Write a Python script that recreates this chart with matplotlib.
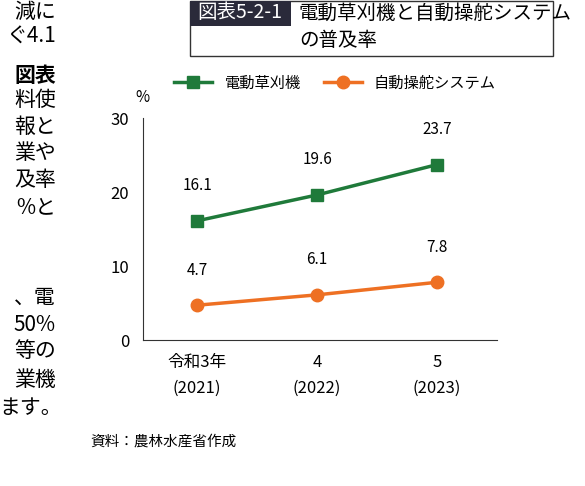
import matplotlib
matplotlib.use("Agg")
import matplotlib.pyplot as plt
from matplotlib.patches import Rectangle

plt.rcParams['font.family'] = ['Noto Sans CJK JP', 'DejaVu Sans']

categories = ["令和3年\n(2021)", "4\n(2022)", "5\n(2023)"]
mower = [16.1, 19.6, 23.7]
steering = [4.7, 6.1, 7.8]
series_names = ["電動草刈機", "自動操舵システム"]
yticks = [0, 10, 20, 30]

W, H = 585, 486
fig = plt.figure(figsize=(W/100, H/100), dpi=100)
green = "#1f7a3a"
orange = "#ee7023"

ax = fig.add_axes([143/W, 1-340/H, (497-143)/W, (340-118)/H])
x = range(len(categories))
ax.plot(x, mower, color=green, marker="s", markersize=9, lw=2.5, label=series_names[0])
ax.plot(x, steering, color=orange, marker="o", markersize=9, lw=2.5, label=series_names[1])
for i, v in enumerate(mower):
    ax.annotate(f"{v}", (i, v), xytext=(0, 22), textcoords="offset points", ha="center", fontsize=11)
for i, v in enumerate(steering):
    ax.annotate(f"{v}", (i, v), xytext=(0, 22), textcoords="offset points", ha="center", fontsize=11)
ax.set_xlim(-0.45, 2.5)
ax.set_ylim(0, 30)
ax.set_yticks(yticks)
ax.set_xticks(list(x))
ax.set_xticklabels(categories, fontsize=12, linespacing=1.7)
ax.tick_params(axis='y', labelsize=12, length=0, pad=10)
ax.tick_params(axis='x', length=0, pad=10)
for s in ["top", "right"]:
    ax.spines[s].set_visible(False)
for s in ["left", "bottom"]:
    ax.spines[s].set_color("#333333")
ax.legend(loc="center", bbox_to_anchor=(335/W, 1-83/H), bbox_transform=fig.transFigure,
          ncol=2, frameon=False, fontsize=11, handlelength=2.5, columnspacing=1.5)
fig.text(135/W, 1-98/H, "%", fontsize=11, ha="left", va="center")
fig.text(90/W, 1-442/H, "資料：農林水産省作成", fontsize=10.5, ha="left", va="center")

# title box
fig.patches.append(Rectangle((190/W, 1-56/H), (553-190)/W, 55/H, transform=fig.transFigure,
                             fill=False, edgecolor="#333333", lw=1))
fig.patches.append(Rectangle((190/W, 1-26/H), (291-190)/W, 25/H, transform=fig.transFigure,
                             facecolor="#2a2a3a", edgecolor="none"))
fig.text(240/W, 1-13/H, "図表5-2-1", color="white", fontsize=14, ha="center", va="center")
fig.text(299/W, 1-13/H, "電動草刈機と自動操舵システム", fontsize=14, ha="left", va="center")
fig.text(299/W, 1-40/H, "の普及率", fontsize=14, ha="left", va="center")

# page fragments on the left
frags = [(12, "減に"), (37, "ぐ4.1"), (75, "図表"), (100, "料使"), (127, "報と"),
         (153, "業や"), (180, "及率"), (207, "%と"), (298, "、電"), (325, "50%"),
         (351, "等の"), (380, "業機"), (408, "ます。")]
for y, t in frags:
    fig.text(56/W if t != "ます。" else 62/W, 1-y/H, t, fontsize=15, ha="right", va="center",
             fontweight="bold" if t == "図表" else "normal")

fig.savefig("out.png", dpi=100)
